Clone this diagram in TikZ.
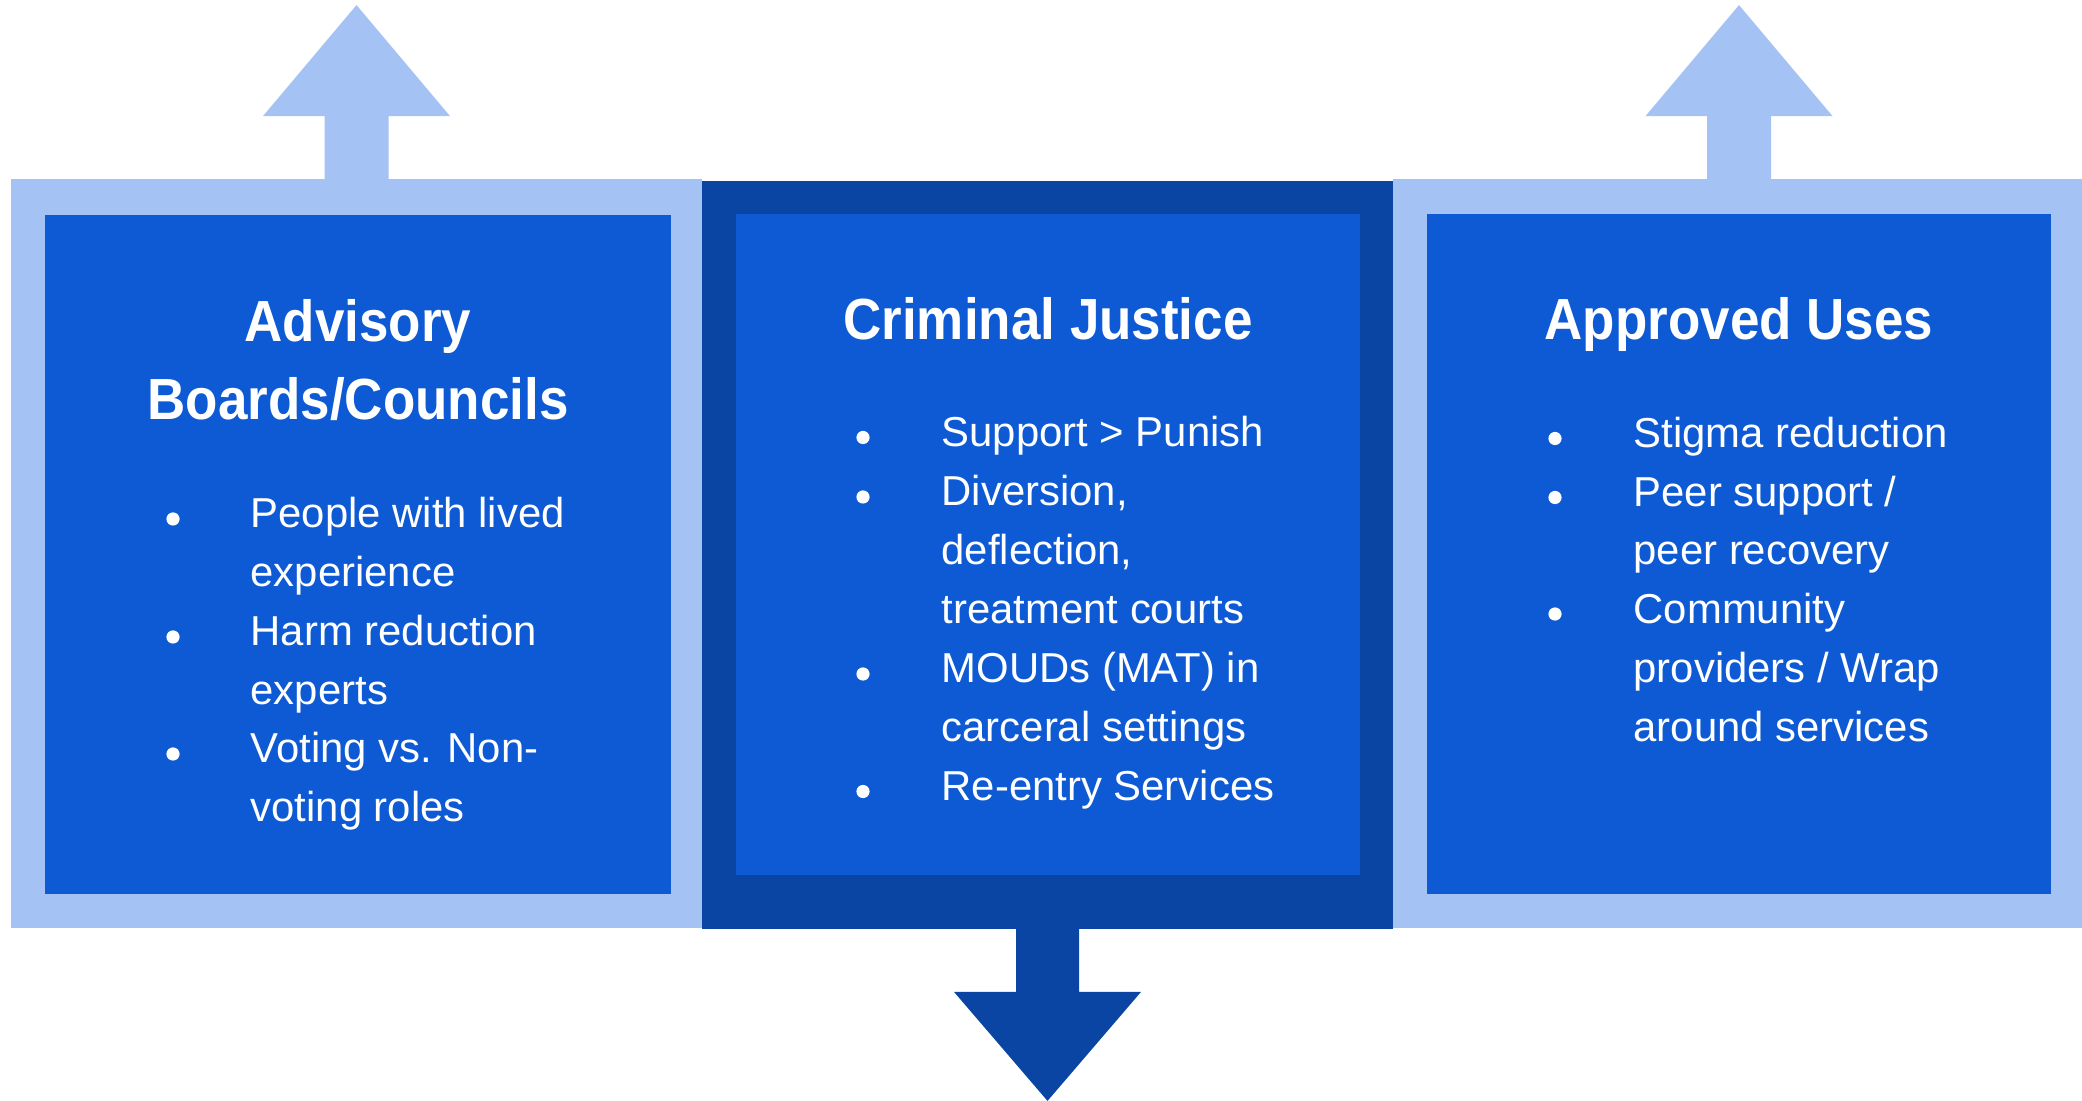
\documentclass[tikz,border=0pt]{standalone}
\usepackage{fontspec}
\setmainfont{Liberation Sans}
\newfontfamily\headfont[FakeStretch=0.913]{Liberation Sans}
\usetikzlibrary{positioning, calc}
\definecolor{panelLight}{HTML}{A4C2F4}
\definecolor{panelBlue}{HTML}{0D5AD4}
\definecolor{panelDark}{HTML}{0A45A3}

\begin{document}
\begin{tikzpicture}[
        x=0.01cm, y=-0.01cm,
        outer/.style={rectangle, inner sep=0pt, minimum width=6.91cm, minimum height=7.49cm},
        inner/.style={rectangle, inner sep=0pt, fill=panelBlue, minimum width=6.24cm},
        title/.style={anchor=base, text=white, inner sep=0pt, font=\headfont\bfseries\fontsize{16.5}{22}\selectfont},
        item/.style={anchor=base west, text=white, inner sep=0pt, font=\fontsize{11.9}{16.7}\selectfont},
        dot/.style={fill=white}
    ]
        \useasboundingbox (0,0) rectangle (2082,1101);

        % Panels
        \node[outer, fill=panelLight] (advOuter) at (356.5,553.5) {};
        \node[outer, fill=panelLight, minimum width=6.92cm] (useOuter) at (1739,553.5) {};
        \node[outer, fill=panelDark, minimum height=7.48cm] (cjOuter) at (1047.5,555) {};

        \node[inner, minimum width=6.26cm, minimum height=6.79cm] (advInner) at (358,554.5) {};
        \node[inner, minimum height=6.61cm] (cjInner) at (1048,544.5) {};
        \node[inner, minimum height=6.80cm] (useInner) at (1739,554) {};

        % Arrows
        \fill[panelLight] ($(advOuter.north)+(-32,1)$) -- ($(advOuter.north)+(-32,-62)$) -- ($(advOuter.north)+(-93.5,-62)$)
            -- ($(advOuter.north)+(0,-173)$) -- ($(advOuter.north)+(93.5,-62)$) -- ($(advOuter.north)+(32,-62)$)
            -- ($(advOuter.north)+(32,1)$) -- cycle;
        \fill[panelLight] ($(useOuter.north)+(-32,1)$) -- ($(useOuter.north)+(-32,-62)$) -- ($(useOuter.north)+(-93.5,-62)$)
            -- ($(useOuter.north)+(0,-173)$) -- ($(useOuter.north)+(93.5,-62)$) -- ($(useOuter.north)+(32,-62)$)
            -- ($(useOuter.north)+(32,1)$) -- cycle;
        \fill[panelDark] ($(cjOuter.south)+(-31.5,-1)$) -- ($(cjOuter.south)+(-31.5,62)$) -- ($(cjOuter.south)+(-93.5,62)$)
            -- ($(cjOuter.south)+(0,171)$) -- ($(cjOuter.south)+(93.5,62)$) -- ($(cjOuter.south)+(31.5,62)$)
            -- ($(cjOuter.south)+(31.5,-1)$) -- cycle;

        % Titles
        \node[title] (advTitle) at (358,342) {Advisory};
        \node[title] (advTitle2) at (358,420) {Boards/Councils};
        \node[title] (cjTitle) at (1048,340) {Criminal Justice};
        \node[title] (useTitle) at (1739,340) {Approved Uses};

        % Advisory items
        \fill[dot] (173,519) circle[radius=0.066cm];
        \fill[dot] (173,637) circle[radius=0.066cm];
        \fill[dot] (173,754) circle[radius=0.066cm];
        \node[item] (adv1) at (250,528) {People with lived};
        \node[item] (adv1b) at (250,587) {experience};
        \node[item] (adv2) at (250,646) {Harm reduction};
        \node[item] (adv2b) at (250,705) {experts};
        \node[item] (adv3) at (250,763) {Voting vs. Non-};
        \node[item] (adv3b) at (250,822) {voting roles};

        % Criminal justice items
        \fill[dot] (863,437.5) circle[radius=0.066cm];
        \fill[dot] (863,497) circle[radius=0.066cm];
        \fill[dot] (863,674) circle[radius=0.066cm];
        \fill[dot] (863,791.5) circle[radius=0.066cm];
        \node[item] (cj1) at (941,446.5) {Support > Punish};
        \node[item] (cj2) at (941,506) {Diversion,};
        \node[item] (cj2b) at (941,565) {deflection,};
        \node[item] (cj2c) at (941,623.5) {treatment courts};
        \node[item] (cj3) at (941,683) {MOUDs (MAT) in};
        \node[item] (cj3b) at (941,742) {carceral settings};
        \node[item] (cj4) at (941,800.5) {Re-entry Services};

        % Approved uses items
        \fill[dot] (1555,438.5) circle[radius=0.066cm];
        \fill[dot] (1555,497.5) circle[radius=0.066cm];
        \fill[dot] (1555,614) circle[radius=0.066cm];
        \node[item] (use1) at (1633,447.5) {Stigma reduction};
        \node[item] (use2) at (1633,506.5) {Peer support /};
        \node[item] (use2b) at (1633,565) {peer recovery};
        \node[item] (use3) at (1633,623.5) {Community};
        \node[item] (use3b) at (1633,682.5) {providers / Wrap};
        \node[item] (use3c) at (1633,741.5) {around services};
    \end{tikzpicture}
\end{document}
